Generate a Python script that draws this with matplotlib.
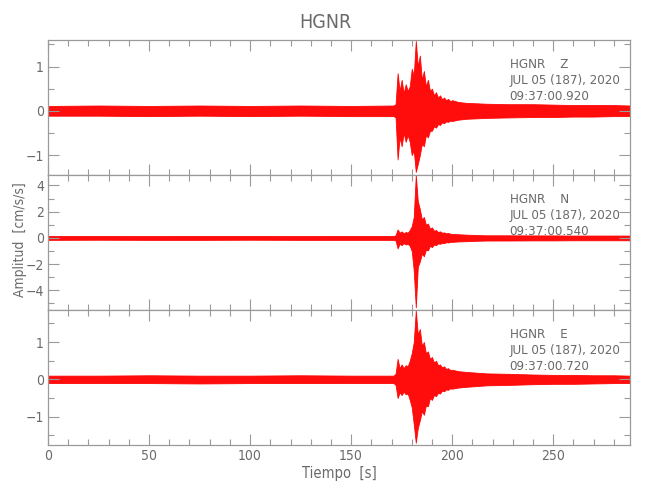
import matplotlib
matplotlib.use("Agg")
import matplotlib.pyplot as plt
from matplotlib.ticker import MultipleLocator

# envelope of each trace (upper / lower extent in cm/s/s)
t = [0, 25, 50, 75, 100, 125, 150,
     171, 172, 173, 174, 175, 176, 177, 178, 179, 180,
     181, 182, 183, 184, 185, 186, 187, 188, 189, 190,
     191, 192, 193, 194, 195, 196, 197, 198, 199, 200,
     203, 207, 212, 217, 227, 240, 250, 260, 270, 280, 288]

z_up = [0.11, 0.12, 0.11, 0.12, 0.11, 0.12, 0.11,
        0.12, 0.15, 0.85, 0.45, 0.7, 0.4, 0.6, 0.45, 0.55, 0.95,
        0.8, 1.58, 1.0, 1.25, 0.7, 0.9, 0.55, 0.7, 0.45, 0.5,
        0.35, 0.42, 0.3, 0.35, 0.26, 0.3, 0.24, 0.27, 0.22, 0.24,
        0.2, 0.18, 0.17, 0.16, 0.15, 0.15, 0.14, 0.13, 0.13, 0.13, 0.12]
z_lo = [-0.11, -0.11, -0.12, -0.11, -0.12, -0.11, -0.12,
        -0.12, -0.15, -1.1, -0.6, -0.8, -0.5, -0.7, -0.55, -0.7, -1.0,
        -0.9, -1.38, -1.2, -1.0, -0.75, -0.8, -0.55, -0.6, -0.45, -0.45,
        -0.35, -0.38, -0.3, -0.32, -0.26, -0.28, -0.24, -0.25, -0.22, -0.23,
        -0.2, -0.18, -0.17, -0.16, -0.15, -0.14, -0.14, -0.13, -0.13, -0.12, -0.12]

n_up = [0.15, 0.15, 0.14, 0.15, 0.15, 0.14, 0.15,
        0.15, 0.2, 0.65, 0.4, 0.5, 0.35, 0.45, 0.4, 0.6, 0.9,
        1.6, 4.8, 2.8, 2.2, 1.4, 1.6, 1.0, 1.1, 0.7, 0.8,
        0.55, 0.6, 0.45, 0.5, 0.4, 0.42, 0.35, 0.38, 0.32, 0.3,
        0.28, 0.25, 0.22, 0.2, 0.2, 0.19, 0.19, 0.18, 0.18, 0.18, 0.18]
n_lo = [-0.15, -0.14, -0.15, -0.15, -0.14, -0.15, -0.15,
        -0.15, -0.2, -0.8, -0.45, -0.55, -0.4, -0.5, -0.45, -0.6, -1.0,
        -2.5, -5.3, -2.2, -1.8, -1.2, -1.4, -0.9, -0.95, -0.6, -0.7,
        -0.5, -0.55, -0.42, -0.45, -0.38, -0.4, -0.33, -0.35, -0.3, -0.3,
        -0.27, -0.25, -0.22, -0.2, -0.2, -0.19, -0.19, -0.18, -0.18, -0.18, -0.18]

e_up = [0.1, 0.1, 0.11, 0.1, 0.1, 0.11, 0.1,
        0.1, 0.15, 0.55, 0.3, 0.4, 0.3, 0.38, 0.35, 0.5, 0.7,
        1.0, 1.85, 1.2, 1.35, 0.9, 1.0, 0.7, 0.75, 0.55, 0.6,
        0.45, 0.5, 0.38, 0.4, 0.32, 0.35, 0.28, 0.3, 0.25, 0.26,
        0.22, 0.2, 0.18, 0.16, 0.15, 0.13, 0.12, 0.12, 0.11, 0.11, 0.1]
e_lo = [-0.1, -0.1, -0.1, -0.11, -0.1, -0.1, -0.1,
        -0.1, -0.15, -0.5, -0.35, -0.42, -0.33, -0.4, -0.38, -0.55, -0.75,
        -1.2, -1.7, -1.3, -1.1, -0.85, -0.95, -0.7, -0.72, -0.5, -0.55,
        -0.42, -0.45, -0.36, -0.38, -0.3, -0.32, -0.27, -0.28, -0.24, -0.25,
        -0.22, -0.2, -0.18, -0.16, -0.15, -0.13, -0.12, -0.12, -0.11, -0.1, -0.1]

components = ["Z", "N", "E"]
start_times = ["09:37:00.920", "09:37:00.540", "09:37:00.720"]
date_label = "JUL 05 (187), 2020"
ylims = [(-1.45, 1.6), (-5.5, 4.8), (-1.76, 1.86)]
ymajor = [1, 2, 1]
yminor = [0.5, 1, 0.5]

gray = "#9a9a9a"
txt = "#6a6a6a"
plt.rcParams["font.family"] = "DejaVu Sans"
plt.rcParams["font.stretch"] = "condensed"

fig = plt.figure(figsize=(6.5, 5), dpi=100)
left, right = 48 / 650, 630 / 650
tops = [40, 175, 310]
h = 135

traces = [(z_up, z_lo), (n_up, n_lo), (e_up, e_lo)]
axes = []
for i, (up, lo) in enumerate(traces):
    ax = fig.add_axes([left, 1 - (tops[i] + h) / 500, right - left, h / 500])
    ax.fill_between(t, lo, up, color="#ff0000", linewidth=0.6, alpha=0.95)
    ax.set_xlim(0, 288)
    ax.set_ylim(*ylims[i])
    ax.xaxis.set_major_locator(MultipleLocator(50))
    ax.xaxis.set_minor_locator(MultipleLocator(10))
    ax.yaxis.set_major_locator(MultipleLocator(ymajor[i]))
    ax.yaxis.set_minor_locator(MultipleLocator(yminor[i]))
    ax.tick_params(which="both", direction="in", top=True, right=True,
                   color=gray, labelcolor=txt, labelsize=10, width=0.8)
    ax.tick_params(which="major", length=8, pad=3)
    ax.tick_params(which="minor", length=4)
    for s in ax.spines.values():
        s.set_color(gray)
        s.set_linewidth(0.9)
    if i < 2:
        ax.tick_params(labelbottom=False)
    ax.text(0.793, 0.87, "HGNR    " + components[i] + "\n" + date_label + "\n" + start_times[i],
            transform=ax.transAxes, ha="left", va="top", fontsize=9.5,
            color=txt, linespacing=1.3)
    axes.append(ax)

axes[2].set_xlabel("Tiempo  [s]", color=txt, fontsize=10.5, labelpad=2)
fig.text(0.5, 0.955, "HGNR", ha="center", va="center", fontsize=14, color=txt)
fig.text(20 / 650, 0.52, "Amplitud  [cm/s/s]", rotation=90, ha="center",
         va="center", fontsize=10, color=txt)

fig.savefig("out.png", dpi=100)
